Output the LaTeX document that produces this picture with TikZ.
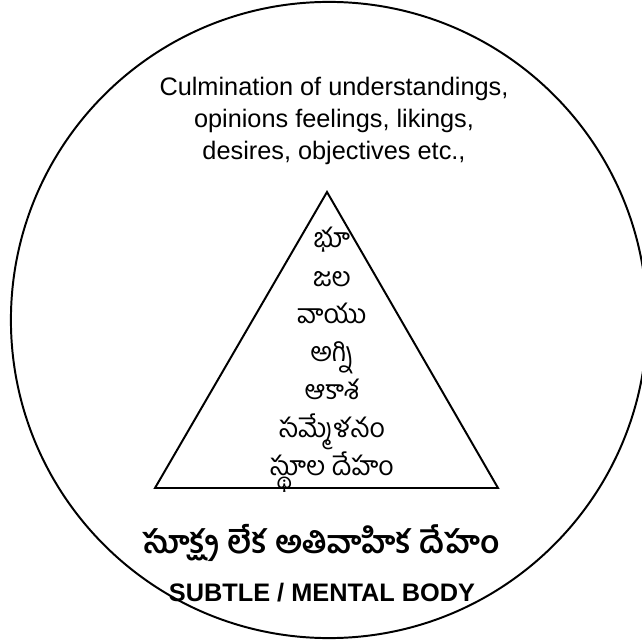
\documentclass[tikz,border=0pt]{standalone}
\usepackage{fontspec}
\setmainfont{Liberation Sans}
\newfontfamily\telugu[Script=Telugu]{Hind Guntur}
\usepackage{tikz}
\usetikzlibrary{positioning,calc}

\begin{document}
\begin{tikzpicture}[x=0.025cm, y=-0.025cm,
  outline/.style={draw, line width=1.4pt},
  note/.style={font=\fontsize{18}{22.5}\selectfont, align=center, inner sep=0pt},
  element/.style={font=\telugu\fontsize{19}{22}\selectfont, inner sep=0pt, anchor=base},
  caption/.style={font=\telugu\bfseries\fontsize{22.5}{28}\selectfont, inner sep=0pt, anchor=base},
  english/.style={font=\bfseries\fontsize{18}{22}\selectfont, inner sep=0pt, anchor=base}
]
  \useasboundingbox (0,0) rectangle (642,642);

  % subtle body
  \node[outline, circle, minimum size=15.9cm, inner sep=0pt] (body) at (329,320) {};
  \node[note] (mind) at (334,121) {Culmination of understandings,\\
    opinions feelings, likings,\\desires, objectives etc.,};

  % gross body pyramid
  \coordinate (apex) at (327,192);
  \coordinate (baseL) at (155,488);
  \coordinate (baseR) at (498,488);
  \draw[line width=1.4pt] (apex) -- (baseR) -- (baseL) -- cycle;

  \node[element] (earth) at (332,248) {భూ};
  \node[element] (water) at (332,286) {జల};
  \node[element] (air)   at (332,323) {వాయు};
  \node[element] (fire)  at (332,361) {అగ్ని};
  \node[element] (space) at (332,399) {ఆకాశ};
  \node[element] (union) at (332,437) {సమ్మేళనం};
  \node[element] (gross) at (332,475) {స్థూల దేహం};

  % labels
  \node[caption] (subtle) at (321,553) {సూక్ష్మ లేక అతివాహిక దేహం};
  \node[english] (name) at (322,601) {SUBTLE / MENTAL BODY};
\end{tikzpicture}
\end{document}
